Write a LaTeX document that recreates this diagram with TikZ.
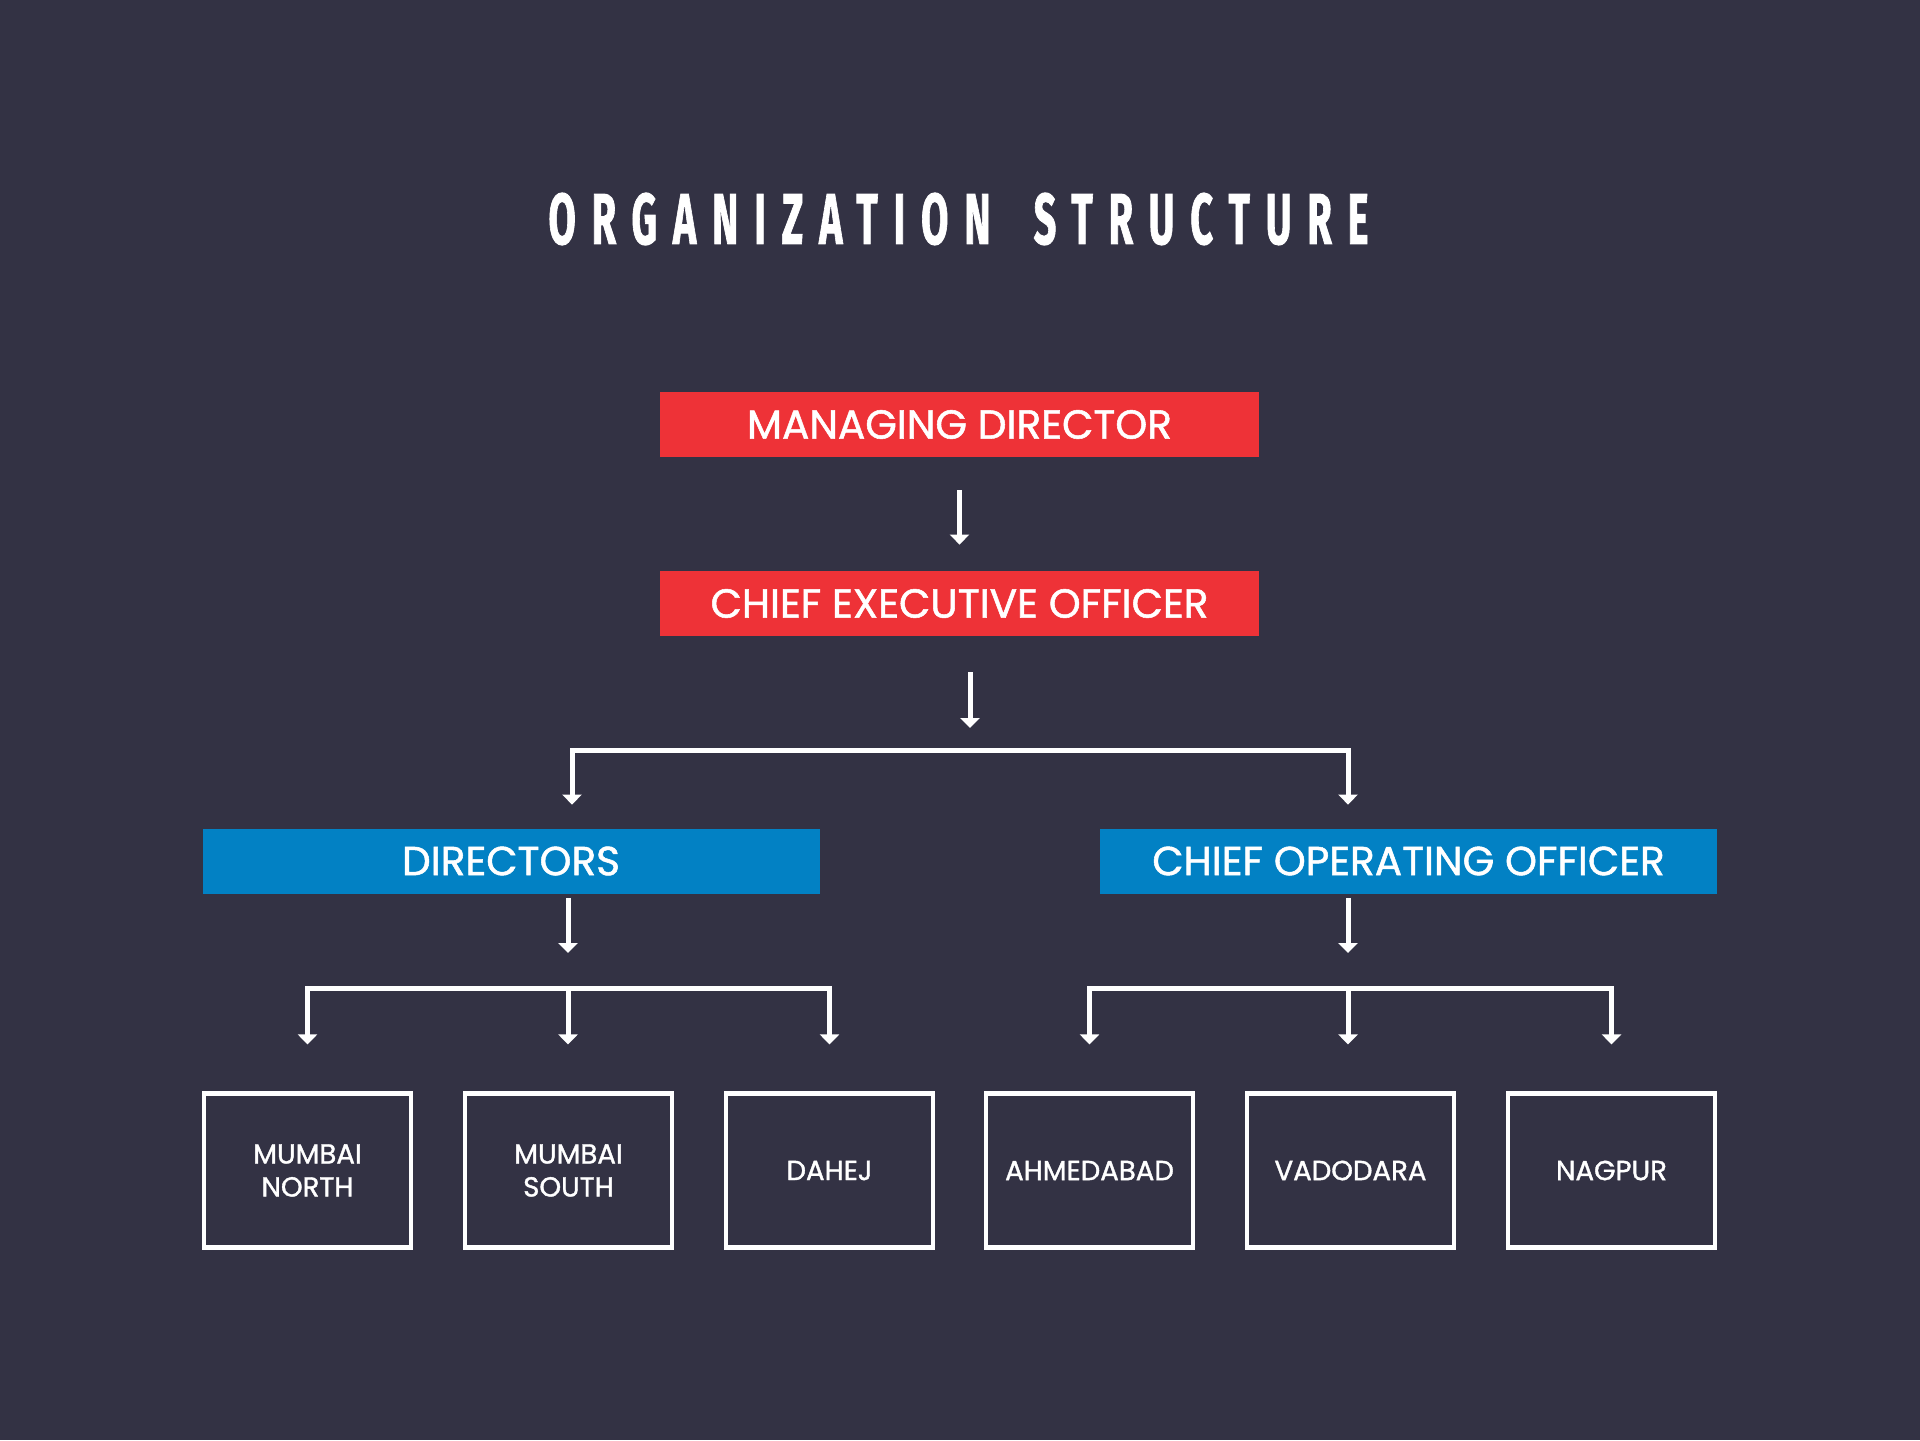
\documentclass[tikz,border=0pt]{standalone}
\usepackage{fontspec}
\usetikzlibrary{arrows.meta}
\setmainfont{Poppins}[FakeBold=1.3]
\newfontfamily\titlefont[LetterSpace=40,FakeBold=1.5]{Fira Sans}
\definecolor{bg}{HTML}{333244}
\definecolor{redbox}{HTML}{EE3237}
\definecolor{bluebox}{HTML}{0281C4}
\begin{document}
\begin{tikzpicture}[x=0.5pt,y=-0.5pt,
  topbox/.style={fill=redbox, minimum width=299.5pt, minimum height=32.5pt, inner sep=0pt, text=white, font=\fontsize{20.3}{24}\selectfont},
  midbox/.style={fill=bluebox, minimum width=308.5pt, minimum height=32.5pt, inner sep=0pt, text=white, font=\fontsize{20.3}{24}\selectfont},
  city/.style={draw=white, line width=2.1pt, minimum width=103.4pt, minimum height=77pt, inner sep=0pt, text=white, align=center, font=\fontsize{13.8}{16.5}\selectfont},
  conn/.style={draw=white, line width=2.5pt, -{Triangle[length=5pt,width=9.5pt]}}
]
\useasboundingbox (0,0) rectangle (1920,1440);
\fill[bg] (0,0) rectangle (1920,1440);

\node[text=white, inner sep=0pt] (title) at (958.5,219) {\resizebox{410pt}{25.5pt}{\titlefont\bfseries ORGANIZATION\hspace{0.45em} STRUCTURE}};

\node[topbox] (md) at (959.5,424.5) {MANAGING DIRECTOR};
\node[topbox] (ceo) at (959.5,603.5) {CHIEF EXECUTIVE OFFICER};
\node[midbox] (dir) at (511,861) {DIRECTORS};
\node[midbox] (coo) at (1408.5,861) {CHIEF OPERATING OFFICER};

\node[city] (c1) at (307.5,1170.5) {MUMBAI\\NORTH};
\node[city] (c2) at (568.5,1170.5) {MUMBAI\\SOUTH};
\node[city] (c3) at (829.5,1170.5) {DAHEJ};
\node[city] (c4) at (1089.5,1170.5) {AHMEDABAD};
\node[city] (c5) at (1350.5,1170.5) {VADODARA};
\node[city] (c6) at (1611.5,1170.5) {NAGPUR};

\coordinate (split) at (970,750);
\coordinate (dl) at (568,988);
\coordinate (dr) at (1348,988);

% MD -> CEO
\draw[conn, shorten <=16.5pt, shorten >=13pt] (md) -- (ceo);
% CEO arrow
\draw[conn, shorten <=18pt, shorten >=11pt] ([xshift=5.25pt]ceo.south) -- (split);
% upper bracket
\draw[conn, shorten >=11.75pt] (split) -| ([xshift=30.5pt]dir.north);
\draw[conn, shorten >=11.75pt] (split) -| ([xshift=-30.25pt]coo.north);
% directors / coo arrows
\draw[conn, shorten <=2pt, shorten >=17.5pt] (dir.south -| dl) -- (dl);
\draw[conn, shorten <=2pt, shorten >=17.5pt] (coo.south -| dr) -- (dr);
% lower left bracket
\draw[conn, shorten >=23.5pt] (dl) -| (c1.north);
\draw[conn, shorten >=23.5pt] (dl) -- (dl |- c2.north);
\draw[conn, shorten >=23.5pt] (dl) -| (c3.north);
% lower right bracket
\draw[conn, shorten >=23.5pt] (dr) -| (c4.north);
\draw[conn, shorten >=23.5pt] (dr) -- (dr |- c5.north);
\draw[conn, shorten >=23.5pt] (dr) -| (c6.north);
\end{tikzpicture}
\end{document}
